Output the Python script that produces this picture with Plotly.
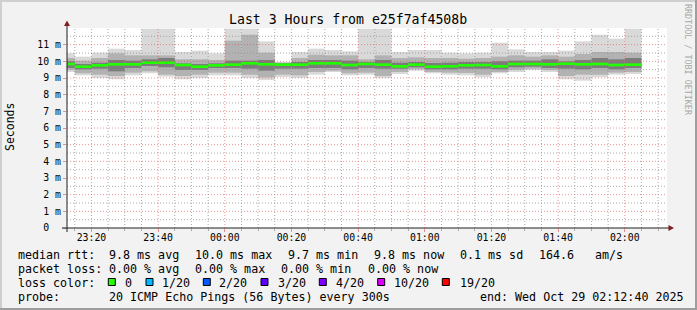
import plotly.graph_objects as go
import pandas as pd

# ---------------- data (milliseconds) ----------------
bar_ends = pd.date_range("2025-10-28 23:15", "2025-10-29 02:05", freq="5min")  # 35 steps of 300 s

rtt_max = [10.48, 10.28, 10.52, 10.76, 10.68, 11.96, 11.96, 10.56, 10.64, 10.48,
           11.96, 11.96, 11.20, 9.96, 10.56, 10.76, 10.68, 10.60, 11.96, 11.96,
           10.56, 10.68, 10.68, 10.52, 10.48, 10.52, 11.12, 10.72, 10.56, 10.56,
           10.64, 11.20, 11.60, 11.36, 11.96]
rtt_hi2 = [10.20, 10.04, 10.20, 10.48, 10.36, 10.36, 10.36, 10.12, 10.12, 10.08,
           11.24, 11.60, 10.52, 9.92, 10.20, 10.40, 10.36, 10.36, 10.12, 10.36,
           10.20, 10.24, 10.20, 10.20, 10.16, 10.20, 10.28, 10.36, 10.28, 10.36,
           10.28, 10.44, 10.56, 10.56, 10.52]
rtt_hi3 = [10.00, 9.84, 9.92, 10.08, 10.04, 10.12, 10.20, 9.88, 9.84, 9.88,
           10.04, 10.04, 10.08, 9.88, 9.96, 10.08, 10.08, 10.04, 9.96, 10.08,
           9.92, 9.96, 9.90, 9.92, 9.96, 9.96, 10.00, 10.04, 10.04, 10.12,
           10.00, 10.08, 10.20, 10.12, 10.20]
rtt_median = [9.84, 9.68, 9.76, 9.82, 9.82, 9.92, 9.92, 9.78, 9.68, 9.76,
              9.80, 9.88, 9.82, 9.80, 9.80, 9.88, 9.88, 9.78, 9.84, 9.80,
              9.70, 9.80, 9.68, 9.70, 9.76, 9.78, 9.70, 9.84, 9.84, 9.82,
              9.86, 9.82, 9.84, 9.78, 9.80]
rtt_lo3 = [9.60, 9.52, 9.56, 9.40, 9.60, 9.72, 9.64, 9.48, 9.48, 9.60,
           9.60, 9.56, 9.44, 9.56, 9.56, 9.60, 9.60, 9.52, 9.60, 9.56,
           9.56, 9.64, 9.52, 9.52, 9.56, 9.56, 9.52, 9.64, 9.68, 9.60,
           9.56, 9.52, 9.60, 9.52, 9.60]
rtt_lo2 = [9.48, 9.28, 9.20, 9.12, 9.32, 9.40, 9.20, 9.12, 9.20, 9.32,
           9.32, 9.20, 9.04, 9.20, 9.16, 9.36, 9.44, 9.28, 9.32, 9.12,
           9.36, 9.52, 9.36, 9.32, 9.30, 9.20, 9.36, 9.48, 9.56, 9.48,
           9.12, 9.20, 9.20, 9.32, 9.36]
rtt_min = [9.36, 9.16, 9.00, 8.92, 9.16, 9.28, 9.08, 8.92, 9.00, 9.16,
           9.16, 9.00, 8.88, 9.06, 9.00, 9.20, 9.36, 9.16, 9.20, 9.00,
           9.24, 9.44, 9.28, 9.20, 9.16, 9.04, 9.28, 9.36, 9.48, 9.36,
           8.92, 8.84, 9.04, 9.20, 9.24]

y_tick_vals = list(range(0, 12))
y_tick_text = ["0\u00a0\u00a0"] + [f"{v:>2d} m".replace(" ", "\u00a0") for v in range(1, 12)]

title_text = "Last 3 Hours from e25f7af4508b"
axis_title = "Seconds"
stats_rtt = [("median rtt:", 16), ("9.8 ms avg", 107), ("10.0 ms max", 193.3), ("9.7 ms min", 286),
             ("9.8 ms now", 372.3), ("0.1 ms sd", 458.3), ("164.6", 537.3), ("am/s", 593.3)]
stats_loss = [("packet loss:", 16), ("0.00 % avg", 107.3), ("0.00 % max", 193.3),
              ("0.00 % min", 279.3), ("0.00 % now", 365.7)]
loss_labels = ["0", "1/20", "2/20", "3/20", "4/20", "10/20", "19/20"]
loss_colors = ["#26ff00", "#00b8ff", "#0059ff", "#5e00ff", "#7e00ff", "#dd00ff", "#ff0000"]
loss_box_x = [108.3, 146, 203.3, 261, 319.3, 377.7, 442.3]
loss_text_x = [122.7, 160, 217.3, 276, 334, 392.3, 457.7]
probe_text = "20 ICMP Echo Pings (56 Bytes) every 300s"
end_text = "end: Wed Oct 29 02:12:40 2025"
watermark = "RRDTOOL / TOBI OETIKER"

# ---------------- geometry ----------------
W, H = 697, 310
L, T, PW, PH = 67, 28, 600, 200
x_start = pd.Timestamp("2025-10-28 23:12:40")
x_end = pd.Timestamp("2025-10-29 02:12:40")
Y_MAX = 12

def px(x):
    return (x - L) / PW

def py(y):
    return (T + PH - y) / PH

MONO = "DejaVu Sans Mono"
centers = bar_ends - pd.Timedelta(seconds=150)
step_ms = 300 * 1000

fig = go.Figure()

def band(lo, hi, color):
    fig.add_trace(go.Bar(
        x=centers, base=lo, y=[h - l for h, l in zip(hi, lo)], width=step_ms,
        marker=dict(color=color, line=dict(width=0)), hoverinfo="skip", showlegend=False))

band(rtt_min, rtt_max, "#d9d9d9")
band(rtt_lo2, rtt_hi2, "#b2b2b2")
band(rtt_lo3, rtt_hi3, "#7c7c7c")
fig.add_trace(go.Bar(
    x=centers, base=[m - 0.08 for m in rtt_median], y=[0.16] * len(rtt_median), width=step_ms,
    marker=dict(color="#22ff00", line=dict(width=0)), hoverinfo="skip", showlegend=False))

shapes = []
# grid (drawn above data, like rrdtool)
GRID = "rgba(143,143,143,0.75)"
MGRID = "rgba(222,79,79,0.6)"
for v in [i * 0.5 for i in range(1, 24)]:
    major = float(v).is_integer()
    shapes.append(dict(type="line", xref="paper", yref="y", x0=0, x1=1, y0=v, y1=v, layer="above",
                       line=dict(color=MGRID if major else GRID, width=1, dash="1px,2px")))
for t in pd.date_range("2025-10-28 23:15", "2025-10-29 02:10", freq="5min"):
    major = t.minute % 20 == 0
    shapes.append(dict(type="line", xref="x", yref="paper", x0=t, x1=t, y0=0, y1=1, layer="above",
                       line=dict(color=MGRID if major else GRID, width=1, dash="1px,2px")))

# axis lines and arrows
AXIS = "#1f1f1f"
ARROW = "#801f1f"
shapes.append(dict(type="line", xref="paper", yref="paper", x0=px(62), x1=px(669), y0=py(228), y1=py(228),
                   line=dict(color=AXIS, width=1), layer="above"))
shapes.append(dict(type="line", xref="paper", yref="paper", x0=px(67), x1=px(67), y0=py(232), y1=py(24),
                   line=dict(color=AXIS, width=1), layer="above"))
shapes.append(dict(type="path", xref="paper", yref="paper",
                   path=f"M {px(668.5)} {py(225)} L {px(674)} {py(228)} L {px(668.5)} {py(231)} Z",
                   fillcolor=ARROW, line=dict(width=0), layer="above"))
shapes.append(dict(type="path", xref="paper", yref="paper",
                   path=f"M {px(64)} {py(26)} L {px(67)} {py(20.5)} L {px(70)} {py(26)} Z",
                   fillcolor=ARROW, line=dict(width=0), layer="above"))

# image frame (rrdtool shade A / shade B)
shapes.append(dict(type="rect", xref="paper", yref="paper", x0=px(0), x1=px(W), y0=py(0), y1=py(2),
                   fillcolor="#cfcfcf", line=dict(width=0), layer="below"))
shapes.append(dict(type="rect", xref="paper", yref="paper", x0=px(0), x1=px(2), y0=py(0), y1=py(H),
                   fillcolor="#cfcfcf", line=dict(width=0), layer="below"))
shapes.append(dict(type="rect", xref="paper", yref="paper", x0=px(0), x1=px(W), y0=py(H - 2), y1=py(H),
                   fillcolor="#9e9e9e", line=dict(width=0), layer="below"))
shapes.append(dict(type="rect", xref="paper", yref="paper", x0=px(W - 2), x1=px(W), y0=py(0), y1=py(H),
                   fillcolor="#9e9e9e", line=dict(width=0), layer="below"))

# loss colour boxes
for bx, col in zip(loss_box_x, loss_colors):
    shapes.append(dict(type="rect", xref="paper", yref="paper", x0=px(bx), x1=px(bx + 7),
                       y0=py(278.5), y1=py(285.5), fillcolor=col, line=dict(color="#000000", width=1)))

annotations = []

def text(s, x, y, size=11.66, anchor="left", color="#000000", angle=0, yanchor="middle"):
    annotations.append(dict(text=s.replace(" ", "\u00a0"), x=px(x), y=py(y), xref="paper", yref="paper",
                            xanchor=anchor, yanchor=yanchor, showarrow=False, textangle=angle,
                            font=dict(family=MONO, size=size, color=color)))

text(title_text, 348, 19, size=13.2, anchor="center")
text(axis_title, 10, 127, size=11.5, anchor="center", angle=-90)
text(watermark, 688, 60, size=8.4, anchor="center", color="#a8a8a8", angle=90)
for s, x in stats_rtt:
    text(s, x, 255)
for s, x in stats_loss:
    text(s, x, 269)
text("loss color:", 16, 282.6)
for s, x in zip(loss_labels, loss_text_x):
    text(s, x, 282.6)
text("probe:", 16, 296.6)
text(probe_text, 107, 296.6)
text(end_text, 478.3, 296.6)

fig.update_layout(
    width=W, height=H, margin=dict(l=L, r=W - L - PW, t=T, b=H - T - PH, pad=0),
    paper_bgcolor="#f2f2f2", plot_bgcolor="#ffffff",
    barmode="overlay", showlegend=False,
    shapes=shapes, annotations=annotations,
    xaxis=dict(type="date", range=[x_start, x_end], showgrid=False, zeroline=False, showline=False,
               tickformat="%H:%M", dtick=20 * 60 * 1000, tick0="2025-10-28 23:20",
               ticks="outside", ticklen=3, tickcolor=MGRID, tickwidth=1, ticklabelstandoff=-3,
               minor=dict(dtick=5 * 60 * 1000, tick0="2025-10-28 23:20", ticks="outside",
                          ticklen=2, tickcolor=GRID, showgrid=False),
               tickfont=dict(family=MONO, size=9.85, color="#000000"), fixedrange=True),
    yaxis=dict(range=[0, Y_MAX], showgrid=False, zeroline=False, showline=False,
               tickvals=y_tick_vals, ticktext=y_tick_text,
               ticks="outside", ticklen=3, tickcolor=MGRID, tickwidth=1,
               tickfont=dict(family=MONO, size=9.85, color="#000000"), fixedrange=True),
)

fig.write_html("out.html")
